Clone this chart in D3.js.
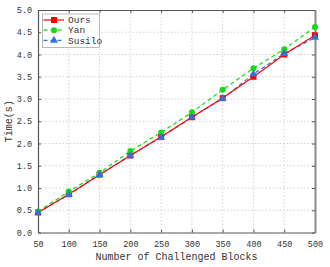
<!DOCTYPE html>
<html>
<head>
<meta charset="utf-8">
<script src="https://cdn.jsdelivr.net/npm/d3@7"></script>
<style>
body { margin: 0; background: #fff; }
text { font-family: "Liberation Mono", monospace; fill: #333; }
</style>
</head>
<body>
<script>
var blocks = [50, 100, 150, 200, 250, 300, 350, 400, 450, 500];
var ours   = [0.45, 0.86, 1.30, 1.73, 2.15, 2.59, 3.02, 3.50, 4.00, 4.43];
var yan    = [0.47, 0.92, 1.34, 1.83, 2.25, 2.70, 3.21, 3.69, 4.12, 4.62];
var susilo = [0.45, 0.85, 1.30, 1.73, 2.14, 2.59, 3.01, 3.56, 4.02, 4.38];
var seriesNames = ["Ours", "Yan", "Susilo"];
var xTicks = [50, 100, 150, 200, 250, 300, 350, 400, 450, 500];
var yTicks = [0, 0.5, 1, 1.5, 2, 2.5, 3, 3.5, 4, 4.5, 5];

var margin = { top: 10, right: 15, bottom: 34.5, left: 38 };
var W = 330, H = 267;
var w = W - margin.left - margin.right;
var h = H - margin.top - margin.bottom;

var svg = d3.select("body").append("svg")
    .attr("width", W).attr("height", H);
var g = svg.append("g")
    .attr("transform", "translate(" + margin.left + "," + margin.top + ")");

var x = d3.scaleLinear().domain([50, 500]).range([0, w]);
var y = d3.scaleLinear().domain([0, 5]).range([h, 0]);

// grid
g.selectAll(".gx").data(xTicks.slice(1, -1)).enter().append("line")
    .attr("x1", d => x(d)).attr("x2", d => x(d))
    .attr("y1", 0).attr("y2", h)
    .attr("stroke", "#c8c8c8").attr("stroke-width", 0.8).attr("stroke-dasharray", "1.5,2");
g.selectAll(".gy").data(yTicks.slice(1, -1)).enter().append("line")
    .attr("y1", d => y(d)).attr("y2", d => y(d))
    .attr("x1", 0).attr("x2", w)
    .attr("stroke", "#c8c8c8").attr("stroke-width", 0.8).attr("stroke-dasharray", "1.5,2");

// axes with inward ticks
var xAxis = g.append("g").attr("transform", "translate(0," + h + ")")
    .call(d3.axisBottom(x).tickValues(xTicks).tickSizeInner(-3).tickSizeOuter(0).tickPadding(8));
var xTop = g.append("g")
    .call(d3.axisTop(x).tickValues(xTicks).tickSizeInner(-3).tickSizeOuter(0).tickFormat(""));
var yAxis = g.append("g")
    .call(d3.axisLeft(y).tickValues(yTicks).tickSizeInner(-3).tickSizeOuter(0).tickPadding(6).tickFormat(d3.format(".1f")));
var yRight = g.append("g").attr("transform", "translate(" + w + ",0)")
    .call(d3.axisRight(y).tickValues(yTicks).tickSizeInner(-3).tickSizeOuter(0).tickFormat(""));

[xAxis, xTop, yAxis, yRight].forEach(function (a) {
    a.selectAll("path").attr("stroke", "#555").attr("stroke-width", 1.2);
    a.selectAll("line").attr("stroke", "#555");
    a.selectAll("text").attr("font-family", "Liberation Mono").attr("font-size", 8.5).attr("fill", "#333");
});
yRight.select("path").attr("stroke", "#888").attr("stroke-width", 2);

// lines and markers
var data = [
    { name: seriesNames[0], values: ours, color: "#ff0000", dash: null, shape: "square" },
    { name: seriesNames[1], values: yan, color: "#11dd11", dash: "4,3", shape: "circle" },
    { name: seriesNames[2], values: susilo, color: "#3070e0", dash: "4,3", shape: "triangle" }
];
var line = d3.line().x((d, i) => x(blocks[i])).y(d => y(d));

var clip = svg.append("clipPath").attr("id", "clip").append("rect")
    .attr("x", -2).attr("y", -6).attr("width", w + 6).attr("height", h + 8);

var drawOrder = [data[2], data[1], data[0]];
var plot = g.append("g");
drawOrder.forEach(function (s) {
    plot.append("path").datum(s.values)
        .attr("d", line).attr("fill", "none")
        .attr("stroke", s.color).attr("stroke-width", 1.2)
        .attr("stroke-dasharray", s.dash);
});

function marker(sel, shape, color, size) {
    var sym = shape == "square" ? d3.symbolSquare : shape == "circle" ? d3.symbolCircle : d3.symbolTriangle;
    var area = shape == "square" ? size * size : shape == "circle" ? Math.PI * size * size / 4 : size * size * 0.55;
    sel.append("path").attr("d", d3.symbol().type(sym).size(area)).attr("fill", color);
}

[data[0], data[1], data[2]].forEach(function (s) {
    s.values.forEach(function (v, i) {
        var m = plot.append("g")
            .attr("transform", "translate(" + x(blocks[i]) + "," + y(v) + ")");
        marker(m, s.shape, s.color, s.shape == "triangle" ? 7 : 6);
    });
});

// legend
var lg = g.append("g").attr("transform", "translate(4.5,4)");
lg.append("rect").attr("width", 57).attr("height", 33.5)
    .attr("fill", "#fff").attr("stroke", "#aaa").attr("stroke-width", 0.8);
data.forEach(function (s, i) {
    var row = lg.append("g").attr("transform", "translate(0," + (6 + i * 10.2) + ")");
    row.append("line").attr("x1", 1).attr("x2", 21.5)
        .attr("stroke", s.color).attr("stroke-width", 1.2).attr("stroke-dasharray", s.dash);
    var m = row.append("g").attr("transform", "translate(11.5,0)");
    marker(m, s.shape, s.color, s.shape == "triangle" ? 7 : 6);
    row.append("text").attr("x", 25.5).attr("y", 3.2)
        .attr("font-size", 9.5).text(s.name);
});

// axis titles
svg.append("text")
    .attr("x", margin.left + w / 2).attr("y", 260)
    .attr("text-anchor", "middle").attr("font-size", 10)
    .text("Number of Challenged Blocks");
svg.append("text")
    .attr("transform", "translate(12," + (margin.top + h / 2) + ") rotate(-90)")
    .attr("text-anchor", "middle").attr("font-size", 10)
    .text("Time(s)");
</script>
</body>
</html>
